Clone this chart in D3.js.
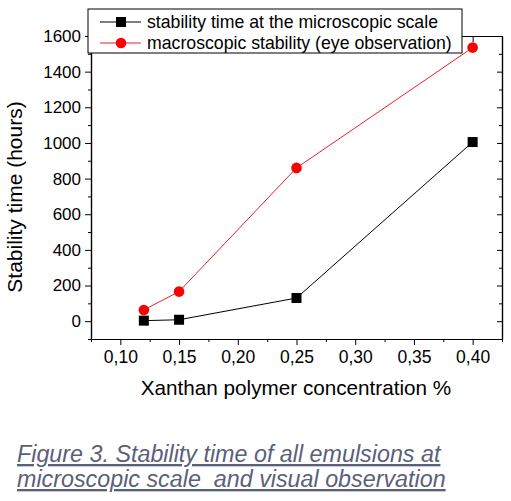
<!DOCTYPE html>
<html>
<head>
<meta charset="utf-8">
<script src="https://cdn.jsdelivr.net/npm/d3@7"></script>
<style>
body { margin: 0; background: #fff; }
text { font-family: Arial, "Liberation Sans", sans-serif; }
</style>
</head>
<body>
<div id="chart"></div>
<script>
// data
var conc = [0.12, 0.15, 0.25, 0.40];
var microTime = [3, 8, 130, 1005];
var macroTime = [63, 166, 860, 1535];
var xMajor = [0.10, 0.15, 0.20, 0.25, 0.30, 0.35, 0.40];
var xMinor = [0.075, 0.125, 0.175, 0.225, 0.275, 0.325, 0.375, 0.425];
var yMajor = [0, 200, 400, 600, 800, 1000, 1200, 1400, 1600];
var yMinor = [-100, 100, 300, 500, 700, 900, 1100, 1300, 1500];
var seriesNames = ["stability time at the microscopic scale", "macroscopic stability (eye observation)"];
var captionLines = ["Figure 3. Stability time of all emulsions at", "microscopic scale  and visual observation"];

var width = 511, height = 501;
var pLeft = 91, pRight = 502, pTop = 36, pBottom = 339;

var svg = d3.select("#chart").append("svg")
	.attr("width", width)
	.attr("height", height);

var x = d3.scaleLinear().domain([0.075, 0.425]).range([pLeft, pRight]);
var y = d3.scaleLinear().domain([-100, 1600]).range([pBottom, pTop]);
var fmt = function(d) { return d3.format(".2f")(d).replace(".", ","); };

// bottom axis (ticks out)
svg.append("g")
	.attr("transform", "translate(0," + pBottom + ")")
	.call(d3.axisBottom(x).tickValues(xMajor).tickFormat(fmt).tickSize(6).tickSizeOuter(0).tickPadding(6))
	.call(function(g) {
		g.selectAll("text").attr("font-size", "17.5px").attr("fill", "#000");
	});
svg.append("g")
	.attr("transform", "translate(0," + pBottom + ")")
	.call(d3.axisBottom(x).tickValues(xMinor).tickFormat("").tickSize(3).tickSizeOuter(0));

// left axis (ticks out)
svg.append("g")
	.attr("transform", "translate(" + pLeft + ",0)")
	.call(d3.axisLeft(y).tickValues(yMajor).tickFormat(d3.format("d")).tickSize(6).tickSizeOuter(0).tickPadding(4))
	.call(function(g) {
		g.selectAll("text").attr("font-size", "17px").attr("fill", "#000");
	});
svg.append("g")
	.attr("transform", "translate(" + pLeft + ",0)")
	.call(d3.axisLeft(y).tickValues(yMinor).tickFormat("").tickSize(3).tickSizeOuter(0));

// mirror axes (ticks in, no labels)
svg.append("g")
	.attr("transform", "translate(" + pRight + ",0)")
	.call(d3.axisLeft(y).tickValues(yMajor).tickFormat("").tickSize(5).tickSizeOuter(0));
svg.append("g")
	.attr("transform", "translate(" + pRight + ",0)")
	.call(d3.axisLeft(y).tickValues(yMinor).tickFormat("").tickSize(3).tickSizeOuter(0));
svg.append("g")
	.attr("transform", "translate(0," + pTop + ")")
	.call(d3.axisBottom(x).tickValues(xMajor).tickFormat("").tickSize(6).tickSizeOuter(0));
svg.append("g")
	.attr("transform", "translate(0," + pTop + ")")
	.call(d3.axisBottom(x).tickValues(xMinor).tickFormat("").tickSize(3).tickSizeOuter(0));

svg.selectAll(".domain").attr("stroke", "#000").attr("stroke-width", 1.2);
svg.selectAll(".tick line").attr("stroke", "#000");

// series
var seriesLine = d3.line().x(function(d, i) { return x(conc[i]); }).y(function(d) { return y(d); });
svg.append("path")
	.datum(microTime)
	.attr("d", seriesLine)
	.attr("fill", "none")
	.attr("stroke", "#000")
	.attr("stroke-width", 1);
svg.append("path")
	.datum(macroTime)
	.attr("d", seriesLine)
	.attr("fill", "none")
	.attr("stroke", "#e8202e")
	.attr("stroke-width", 1);

svg.selectAll(".sq").data(microTime).enter().append("rect")
	.attr("x", function(d, i) { return x(conc[i]) - 5; })
	.attr("y", function(d) { return y(d) - 5; })
	.attr("width", 10)
	.attr("height", 10)
	.attr("fill", "#000");
svg.selectAll(".dot").data(macroTime).enter().append("circle")
	.attr("cx", function(d, i) { return x(conc[i]); })
	.attr("cy", function(d) { return y(d); })
	.attr("r", 5.3)
	.attr("fill", "#ff0000");

// legend
var lg = svg.append("g");
lg.append("rect")
	.attr("x", 88).attr("y", 9)
	.attr("width", 374).attr("height", 44)
	.attr("fill", "#fff").attr("stroke", "#000").attr("stroke-width", 1);
var rows = [22, 43];
lg.append("line").attr("x1", 100).attr("x2", 141).attr("y1", rows[0]).attr("y2", rows[0]).attr("stroke", "#000");
lg.append("rect").attr("x", 116).attr("y", rows[0] - 5).attr("width", 10).attr("height", 10).attr("fill", "#000");
lg.append("line").attr("x1", 100).attr("x2", 141).attr("y1", rows[1]).attr("y2", rows[1]).attr("stroke", "#e8202e");
lg.append("circle").attr("cx", 121).attr("cy", rows[1]).attr("r", 5.3).attr("fill", "#ff0000");
lg.selectAll(".lt").data(seriesNames).enter().append("text")
	.attr("x", 147)
	.attr("y", function(d, i) { return rows[i] + 6; })
	.attr("font-size", "17.7px")
	.attr("fill", "#000")
	.text(function(d) { return d; });

// axis titles
svg.append("text")
	.attr("x", 296)
	.attr("y", 395)
	.attr("text-anchor", "middle")
	.attr("font-size", "20.7px")
	.attr("fill", "#000")
	.text("Xanthan polymer concentration %");
svg.append("text")
	.attr("transform", "translate(22,197) rotate(-90)")
	.attr("text-anchor", "middle")
	.attr("font-size", "21px")
	.attr("fill", "#000")
	.text("Stability time (hours)");

// caption
svg.selectAll(".cap").data(captionLines).enter().append("text")
	.attr("x", 17)
	.attr("y", function(d, i) { return 462 + i * 25; })
	.attr("font-size", "23.3px")
	.attr("font-style", "italic")
	.attr("text-decoration", "underline")
	.attr("fill", "#5a6079")
	.style("white-space", "pre")
	.text(function(d) { return d; });
</script>
</body>
</html>
